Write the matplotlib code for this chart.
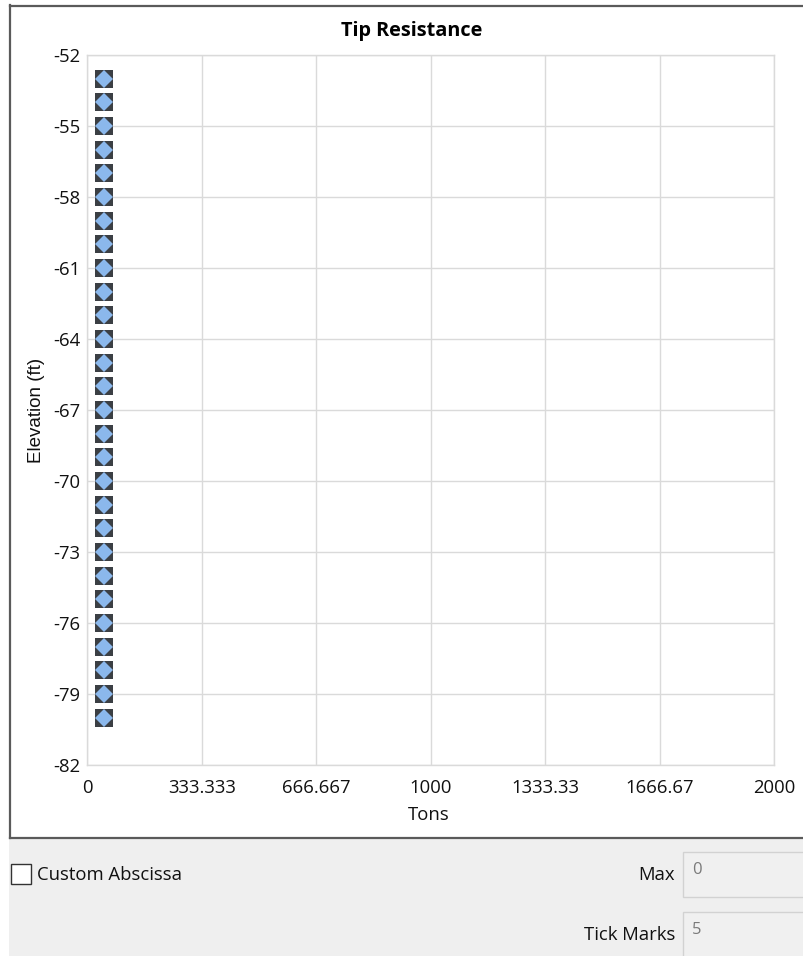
import matplotlib
matplotlib.use("Agg")
import matplotlib.pyplot as plt
from matplotlib.patches import Rectangle
from matplotlib.lines import Line2D

plt.rcParams["font.family"] = ["Open Sans", "DejaVu Sans"]

# Tip resistance (tons) at each elevation (ft)
elevation_ft = [-53, -54, -55, -56, -57, -58, -59, -60, -61, -62,
                -63, -64, -65, -66, -67, -68, -69, -70, -71, -72,
                -73, -74, -75, -76, -77, -78, -79, -80]
tip_tons = [48, 48, 48, 48, 48, 48, 48, 48, 48, 48,
            48, 48, 48, 48, 48, 48, 48, 48, 48, 48,
            48, 48, 48, 48, 48, 48, 48, 48]

x_ticks = [0, 333.333, 666.667, 1000, 1333.33, 1666.67, 2000]
x_tick_labels = ["0", "333.333", "666.667", "1000", "1333.33", "1666.67", "2000"]
y_ticks = [-52, -55, -58, -61, -64, -67, -70, -73, -76, -79, -82]
y_tick_labels = ["-52", "-55", "-58", "-61", "-64", "-67", "-70", "-73", "-76", "-79", "-82"]

W, H = 804, 956
fig = plt.figure(figsize=(W / 100, H / 100), dpi=100)
fig.patch.set_facecolor("white")

FS = 13.3
TXT = "#111111"


def fx(px):
    return px / W


def fy(py):
    return 1 - py / H


# lower control panel background
fig.add_artist(Rectangle((fx(9), 0), fx(W - 9), fy(838),
                         transform=fig.transFigure, facecolor="#efefef",
                         edgecolor="none", zorder=0))

# chart frame
frame_col = "#5a5a5a"
fig.add_artist(Line2D([fx(10.5), fx(10.5)], [fy(5), fy(838)], color=frame_col,
                      lw=1.6, transform=fig.transFigure))
fig.add_artist(Line2D([fx(10), fx(W)], [fy(837.5), fy(837.5)], color=frame_col,
                      lw=1.6, transform=fig.transFigure))
fig.add_artist(Line2D([fx(10), fx(W)], [fy(5.5), fy(5.5)], color=frame_col,
                      lw=1.6, transform=fig.transFigure))

# plot area
left, right, top, bottom = 87.5, 774, 55, 765
ax = fig.add_axes([fx(left), fy(bottom), fx(right - left), fy(top) - fy(bottom)])
ax.set_xlim(0, 2000)
ax.set_ylim(-82, -52)
ax.set_xticks(x_ticks)
ax.set_xticklabels(x_tick_labels)
ax.set_yticks(y_ticks)
ax.set_yticklabels(y_tick_labels)
ax.grid(True, color="#dadada", lw=1.0)
ax.set_axisbelow(True)
for s in ax.spines.values():
    s.set_color("#dadada")
    s.set_linewidth(1.0)
ax.tick_params(length=0, labelsize=FS, colors=TXT)
ax.tick_params(axis="y", pad=5)
ax.tick_params(axis="x", pad=10)

ax.plot(tip_tons, elevation_ft, linestyle="none", marker="s", markersize=13.2,
        markerfacecolor="#3b3f44", markeredgecolor="#3b3f44", markeredgewidth=0,
        clip_on=False, zorder=3)
ax.plot(tip_tons, elevation_ft, linestyle="none", marker="D", markersize=9.6,
        markerfacecolor="#8bb8ec", markeredgecolor="#8bb8ec", markeredgewidth=0,
        clip_on=False, zorder=4)

fig.text(fx(412), fy(31), "Tip Resistance", ha="center", va="center",
         fontsize=14.3, fontweight="bold", color="#000000")
fig.text(fx(37), fy(410), "Elevation (ft)", ha="center", va="center",
         rotation=90, fontsize=13.5, color=TXT,
         family=["Liberation Sans", "DejaVu Sans"])
fig.text(fx(429), fy(815), "Tons", ha="center", va="center",
         fontsize=FS, color=TXT)

# control panel widgets
fig.add_artist(Rectangle((fx(11), fy(884)), fx(20), fy(864) - fy(884),
                         transform=fig.transFigure, facecolor="white",
                         edgecolor="#333333", lw=1.0))
fig.text(fx(37), fy(875), "Custom Abscissa", ha="left", va="center",
         fontsize=FS, color=TXT)
fig.text(fx(675), fy(875), "Max", ha="right", va="center",
         fontsize=FS, color=TXT)
fig.text(fx(675), fy(935), "Tick Marks", ha="right", va="center",
         fontsize=FS, color=TXT)
fig.add_artist(Rectangle((fx(683.5), fy(897)), fx(130), fy(852) - fy(897),
                         transform=fig.transFigure, facecolor="#f0f0f0",
                         edgecolor="#d2d2d2", lw=1.0))
fig.add_artist(Rectangle((fx(683.5), fy(970)), fx(130), fy(912) - fy(970),
                         transform=fig.transFigure, facecolor="#f0f0f0",
                         edgecolor="#d2d2d2", lw=1.0))
fig.text(fx(692), fy(870), "0", ha="left", va="center",
         fontsize=12, color="#7a7a7a")
fig.text(fx(692), fy(930), "5", ha="left", va="center",
         fontsize=12, color="#7a7a7a")

fig.savefig("out.png", dpi=100)
